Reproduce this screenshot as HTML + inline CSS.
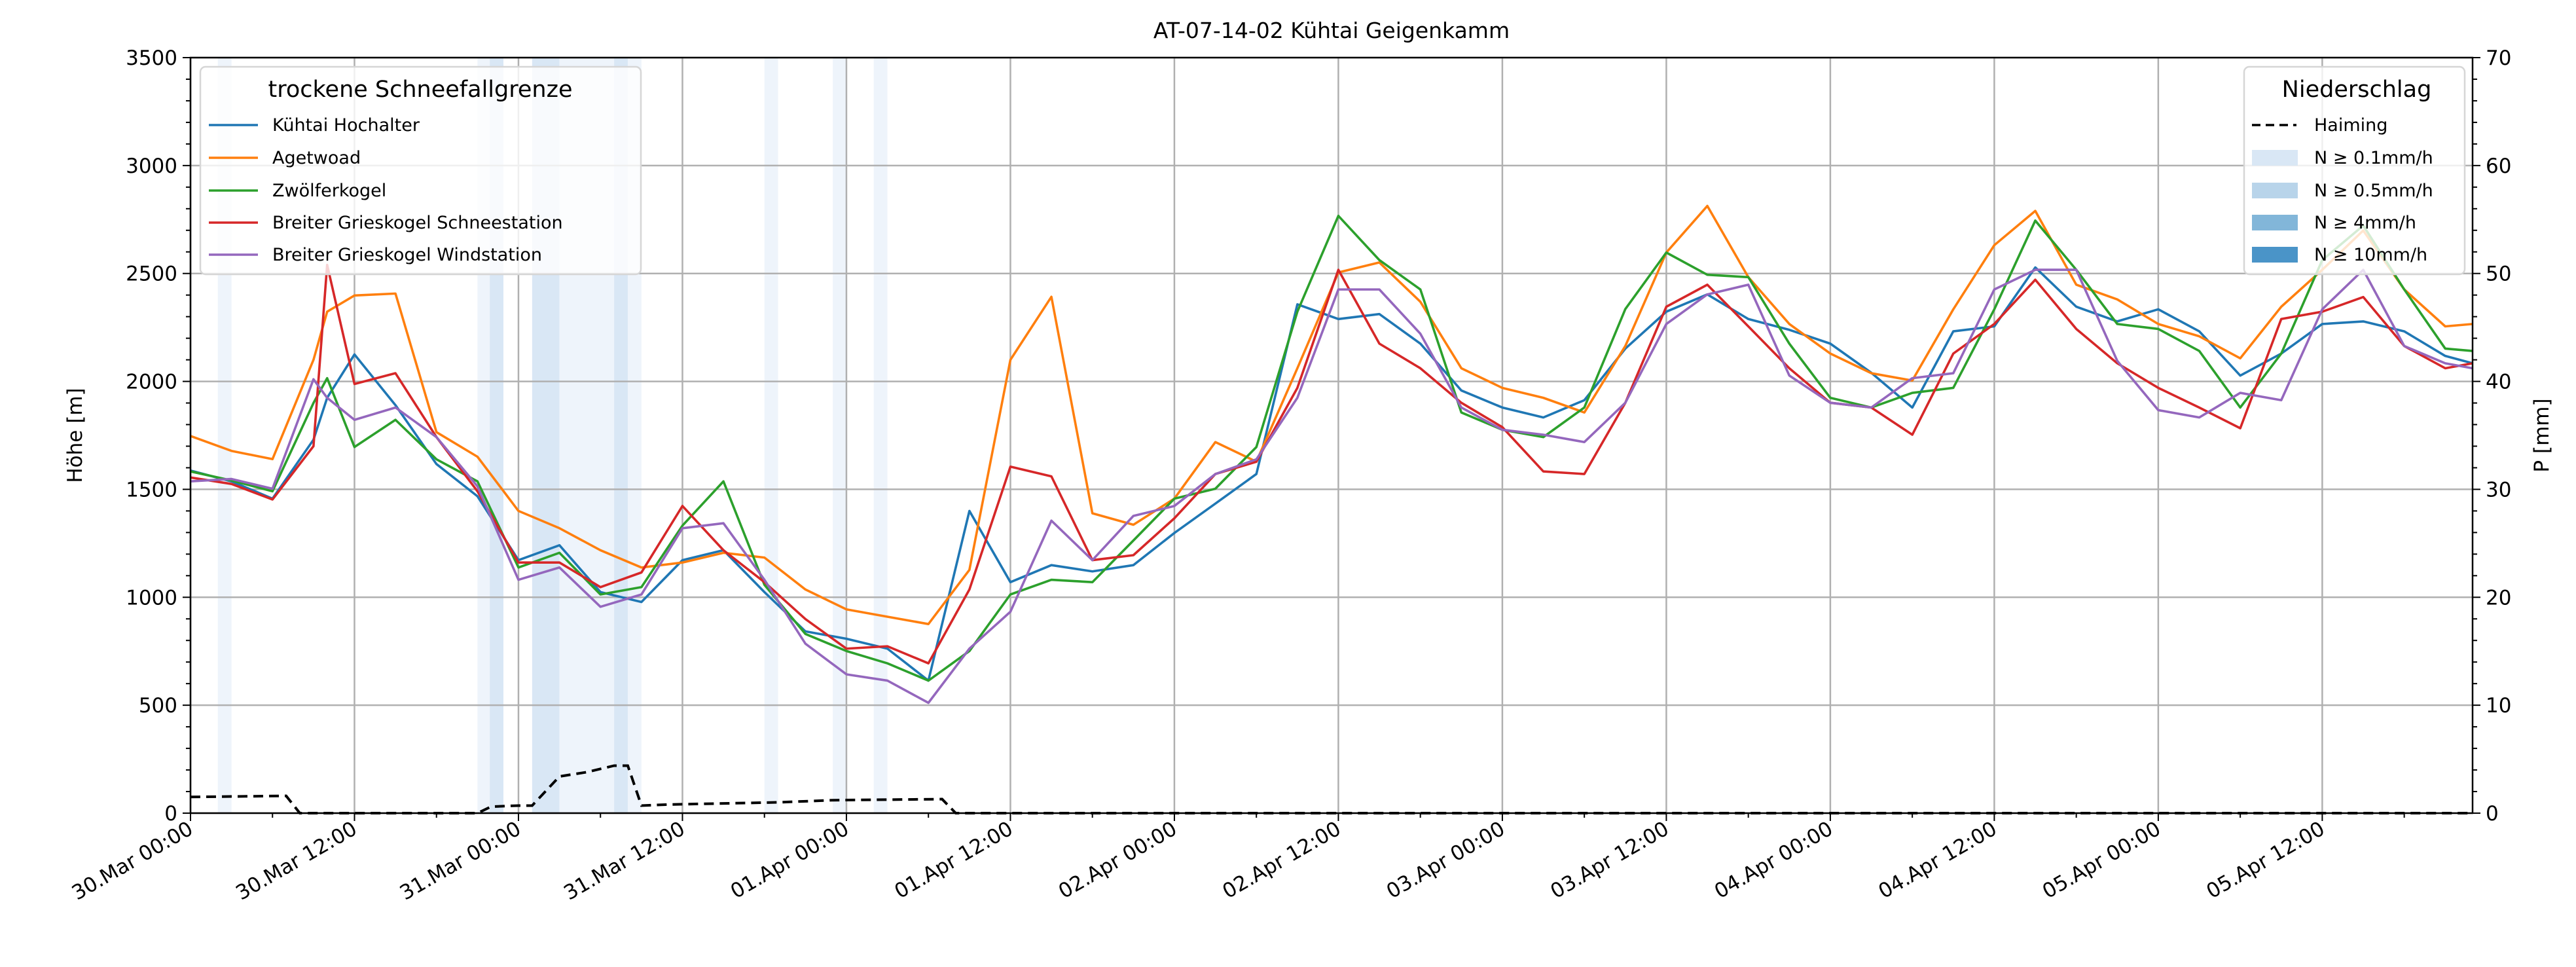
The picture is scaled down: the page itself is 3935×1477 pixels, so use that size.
<!DOCTYPE html>
<html><head><meta charset="utf-8"><style>
html,body{margin:0;padding:0;background:#fff;}
svg{display:block;font-family:"DejaVu Sans","Liberation Sans",sans-serif;}
</style></head><body>
<svg id="chart" width="3935" height="1477" viewBox="0 0 3935 1477" xmlns="http://www.w3.org/2000/svg">
<text x="2034" y="58" font-size="33" text-anchor="middle">AT-07-14-02 Kühtai Geigenkamm</text>
<g id="bands"></g>
<g id="grid"></g>
<g id="series"></g>
<g id="axes"></g>
<text transform="translate(125,665) rotate(-90)" font-size="31" text-anchor="middle">Höhe [m]</text>
<text transform="translate(3893,665) rotate(-90)" font-size="31" text-anchor="middle">P [mm]</text>
<g>
<rect x="306" y="102" width="673" height="317" rx="8" fill="#fff" fill-opacity="0.8" stroke="#d6d6d6" stroke-width="2.5"/>
<text x="642" y="148" font-size="35" text-anchor="middle">trockene Schneefallgrenze</text>
<g font-size="27">
<line x1="319" y1="191" x2="394" y2="191" stroke="#1f77b4" stroke-width="3.5"/><text x="416" y="200">Kühtai Hochalter</text>
<line x1="319" y1="241" x2="394" y2="241" stroke="#ff7f0e" stroke-width="3.5"/><text x="416" y="250">Agetwoad</text>
<line x1="319" y1="291" x2="394" y2="291" stroke="#2ca02c" stroke-width="3.5"/><text x="416" y="300">Zwölferkogel</text>
<line x1="319" y1="340" x2="394" y2="340" stroke="#d62728" stroke-width="3.5"/><text x="416" y="349">Breiter Grieskogel Schneestation</text>
<line x1="319" y1="389" x2="394" y2="389" stroke="#9467bd" stroke-width="3.5"/><text x="416" y="398">Breiter Grieskogel Windstation</text>
</g></g>
<g>
<rect x="3428" y="102" width="337" height="317" rx="8" fill="#fff" fill-opacity="0.8" stroke="#d6d6d6" stroke-width="2.5"/>
<text x="3600" y="148" font-size="35" text-anchor="middle">Niederschlag</text>
<g font-size="27">
<line x1="3440" y1="191" x2="3508" y2="191" stroke="#000" stroke-width="3.5" stroke-dasharray="13,8"/><text x="3535" y="200">Haiming</text>
<rect x="3440" y="229" width="70" height="24" fill="#d9e7f5"/><text x="3535" y="250">N ≥ 0.1mm/h</text>
<rect x="3440" y="279" width="70" height="24" fill="#b8d4ea"/><text x="3535" y="300">N ≥ 0.5mm/h</text>
<rect x="3440" y="328" width="70" height="24" fill="#82b6d9"/><text x="3535" y="349">N ≥ 4mm/h</text>
<rect x="3440" y="377" width="70" height="24" fill="#4a94c8"/><text x="3535" y="398">N ≥ 10mm/h</text>
</g></g>
</svg>
<script>
const times=[0,3,6,9,10,12,15,18,21,24,27,30,33,36,39,42,45,48,51,54,57,60,63,66,69,72,75,78,81,84,87,90,93,96,99,102,105,108,111,114,117,120,123,126,129,132,135,138,141,144,147,150,153,156,159,162,165,167];
const hochalter=[1587,1537,1457,1730,1924,2125,1890,1617,1468,1172,1241,1024,978,1172,1218,1024,842,808,762,614,1400,1070,1149,1120,1149,1298,1434,1571,2357,2289,2312,2175,1958,1879,1833,1913,2152,2323,2403,2289,2239,2175,2040,1879,2232,2255,2528,2346,2278,2334,2232,2027,2129,2266,2278,2232,2118,2084];
const agetwoad=[1747,1678,1640,2100,2323,2398,2407,1765,1651,1400,1320,1218,1138,1161,1206,1184,1036,944,910,876,1127,2100,2392,1389,1336,1457,1719,1628,2061,2505,2551,2369,2061,1970,1924,1856,2164,2597,2813,2483,2266,2129,2038,2004,2334,2631,2790,2448,2380,2266,2209,2107,2346,2517,2699,2426,2255,2266];
const zwoelferkogel=[1583,1541,1491,1900,2015,1696,1822,1639,1537,1138,1206,1013,1047,1332,1537,1058,830,751,694,614,751,1013,1081,1070,1263,1457,1503,1696,2323,2767,2562,2426,1856,1776,1742,1879,2335,2597,2494,2483,2175,1924,1879,1947,1970,2334,2745,2517,2266,2243,2141,1879,2129,2562,2722,2426,2152,2141];
const schneestation=[1555,1525,1453,1700,2540,1988,2038,1742,1491,1161,1161,1047,1115,1423,1218,1070,899,762,773,694,1036,1605,1560,1172,1195,1366,1571,1628,1970,2517,2175,2061,1901,1788,1583,1571,1901,2346,2448,2255,2061,1901,1879,1753,2129,2266,2471,2243,2084,1970,1879,1783,2289,2323,2391,2164,2061,2084];
const windstation=[1537,1548,1503,2010,1924,1822,1879,1742,1514,1081,1138,956,1013,1320,1343,1081,785,643,614,511,762,933,1355,1172,1377,1423,1571,1639,1924,2426,2426,2221,1879,1776,1753,1719,1901,2266,2403,2448,2027,1901,1879,2015,2038,2426,2517,2517,2095,1867,1833,1947,1913,2334,2517,2164,2084,2061];
const precipTimes=[0,7,8,21,22,24,25,27,29,31,32,33,35,43,47,55,56,167];
const precipValues=[1.5,1.6,0,0,0.6,0.7,0.7,3.4,3.8,4.4,4.4,0.7,0.8,1.0,1.2,1.3,0,0];
const bandStart=[2,21,21.9,25,27,31,32,42,47,50];
const bandEnd=[3,21.9,22.9,27,31,32,33,43,48,51];
const bandLevel=[0,0,1,1,0,1,0,0,0,0];
const yTicks=[0,500,1000,1500,2000,2500,3000,3500];
const y2Ticks=[0,10,20,30,40,50,60,70];
const xTickLabels=["30.Mar 00:00","30.Mar 12:00","31.Mar 00:00","31.Mar 12:00","01.Apr 00:00","01.Apr 12:00","02.Apr 00:00","02.Apr 12:00","03.Apr 00:00","03.Apr 12:00","04.Apr 00:00","04.Apr 12:00","05.Apr 00:00","05.Apr 12:00"];

const L=291,R=3777,T=88,B=1242,TMAX=167;
const NS='http://www.w3.org/2000/svg';
const xs=t=>L+(R-L)*t/TMAX;
const ys=v=>B-(B-T)*v/3500;
const ys2=v=>B-(B-T)*v/70;
function mk(tag,attrs,parent){const e=document.createElementNS(NS,tag);for(const k in attrs)e.setAttribute(k,attrs[k]);parent.appendChild(e);return e;}
const bandColors=['#eef4fb','#d9e7f5','#b8d4ea','#82b6d9'];
const gB=document.getElementById('bands');
bandStart.forEach((s,i)=>{
  const r=mk('rect',{x:xs(s),y:T,width:xs(bandEnd[i])-xs(s),height:B-T,fill:bandColors[bandLevel[i]]},gB);
  
  
});
const gG=document.getElementById('grid');
yTicks.forEach(v=>{const l=mk('line',{x1:L,x2:R,y1:ys(v),y2:ys(v),stroke:'#b0b0b0','stroke-width':2.5},gG);
  
  });
xTickLabels.forEach((s,i)=>{const x=xs(i*12);const l=mk('line',{x1:x,x2:x,y1:T,y2:B,stroke:'#b0b0b0','stroke-width':2.5},gG);
  
  });
const gS=document.getElementById('series');
const series=[[hochalter,'#1f77b4','series-kuehtai-hochalter'],[agetwoad,'#ff7f0e','series-agetwoad'],[zwoelferkogel,'#2ca02c','series-zwoelferkogel'],[schneestation,'#d62728','series-schneestation'],[windstation,'#9467bd','series-windstation']];
series.forEach(([vals,col,name])=>{
  const p=mk('polyline',{points:vals.map((v,i)=>xs(times[i])+','+ys(v)).join(' '),fill:'none',stroke:col,'stroke-width':3.6,'stroke-linejoin':'round'},gS);
  
  
});
const pp=mk('polyline',{points:precipTimes.map((t,i)=>xs(t)+','+ys2(precipValues[i])).join(' '),fill:'none',stroke:'#000','stroke-width':4,'stroke-dasharray':'15,9'},gS);


const gA=document.getElementById('axes');
const fr=mk('rect',{x:L,y:T,width:R-L,height:B-T,fill:'none',stroke:'#000','stroke-width':2.5},gA);


for(let v=0;v<=3500;v+=100){const big=v%500===0;mk('line',{x1:L,x2:L-(big?12:7),y1:ys(v),y2:ys(v),stroke:'#000','stroke-width':2},gA);}
for(let v=0;v<=70;v+=2){const big=v%10===0;mk('line',{x1:R,x2:R+(big?12:7),y1:ys2(v),y2:ys2(v),stroke:'#000','stroke-width':2},gA);}
for(let t=0;t<=TMAX;t+=6){const big=t%12===0;mk('line',{x1:xs(t),x2:xs(t),y1:B,y2:B+(big?12:7),stroke:'#000','stroke-width':2},gA);}
yTicks.forEach(v=>{const t=mk('text',{x:L-20,y:ys(v)+11,'font-size':31,'text-anchor':'end'},gA);t.textContent=v;
  
  });
y2Ticks.forEach(v=>{const t=mk('text',{x:R+20,y:ys2(v)+11,'font-size':31,'text-anchor':'start'},gA);t.textContent=v;
  
  });
xTickLabels.forEach((s,i)=>{const x=xs(i*12);const t=mk('text',{transform:'translate('+(x+6)+','+(B+30)+') rotate(-30)','font-size':31,'text-anchor':'end'},gA);t.textContent=s;
  
  });
</script>
</body></html>
